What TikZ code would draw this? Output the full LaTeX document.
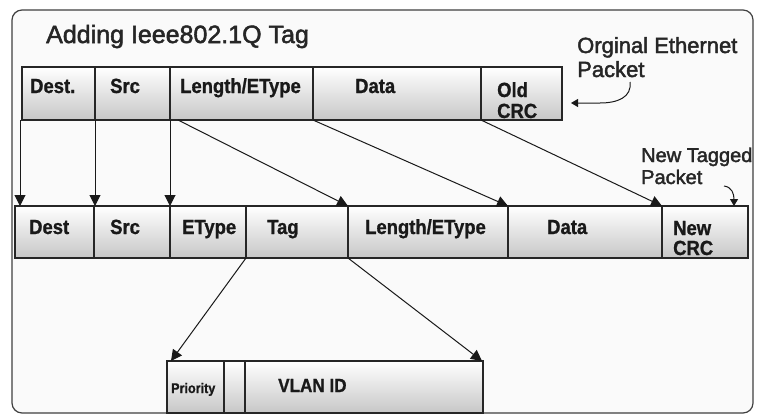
\documentclass[tikz,border=0pt]{standalone}
\usepackage{fontspec}
\setmainfont{Liberation Sans}
\newfontfamily\cellfont{Liberation Sans}[FakeStretch=0.9,FakeBold=1]
\newfontfamily\medfont{Liberation Sans}[FakeBold=2]
\usetikzlibrary{arrows.meta}
\begin{document}
\begin{tikzpicture}[x=1pt,y=-1pt,
  cell/.style={draw=black!85, line width=1.1pt, top color=white, bottom color=black!22,
    anchor=north west, inner sep=0pt, outer sep=0pt},
  ctext/.style={anchor=base west, inner sep=0pt, font=\cellfont\fontsize{20.5}{22}\selectfont\bfseries, text=black!90},
  note/.style={anchor=base west, inner sep=0pt, text=black!85},
  arr/.style={draw=black!90, line width=1pt, -{Triangle[length=11pt,width=11pt]}},
  sarr/.style={draw=black!90, line width=1pt, -{Triangle[length=7pt,width=8pt]}}]
\useasboundingbox (0,0) rectangle (759,415);
\fill[white] (0,0) rectangle (759,415);
% frame
\draw[draw=black!75, line width=1.2pt, fill=black!2, rounded corners=10pt] (12,10) rectangle (753,413);
% title
\node[note, font=\medfont\fontsize{25}{28}\selectfont] (title) at (46,43) {Adding Ieee802.1Q Tag};
% top row: original packet
\node[cell, minimum width=73pt, minimum height=53pt] (d1) at (22,67) {};
\node[cell, minimum width=75pt, minimum height=53pt] (s1) at (95,67) {};
\node[cell, minimum width=143pt, minimum height=53pt] (l1) at (170,67) {};
\node[cell, minimum width=168pt, minimum height=53pt] (da1) at (313,67) {};
\node[cell, minimum width=81pt, minimum height=53pt] (o1) at (481,67) {};
\node[ctext] (td1) at (30,93) {Dest.};
\node[ctext] (ts1) at (110,93) {Src};
\node[ctext] (tl1) at (180,93) {Length/EType};
\node[ctext] (tda1) at (355,93) {Data};
\node[ctext] (to1a) at (497,97) {Old};
\node[ctext] (to1b) at (497,118) {CRC};
% second row: tagged packet
\node[cell, minimum width=79pt, minimum height=52pt] (d2) at (15,206) {};
\node[cell, minimum width=76pt, minimum height=52pt] (s2) at (94,206) {};
\node[cell, minimum width=76pt, minimum height=52pt] (e2) at (170,206) {};
\node[cell, minimum width=102pt, minimum height=52pt] (t2) at (246,206) {};
\node[cell, minimum width=160pt, minimum height=52pt] (l2) at (348,206) {};
\node[cell, minimum width=154pt, minimum height=52pt] (da2) at (508,206) {};
\node[cell, minimum width=86pt, minimum height=52pt] (n2) at (662,206) {};
\node[ctext] (td2) at (29,234) {Dest};
\node[ctext] (ts2) at (110,234) {Src};
\node[ctext] (te2) at (182,234) {EType};
\node[ctext] (tt2) at (267,234) {Tag};
\node[ctext] (tl2) at (365,234) {Length/EType};
\node[ctext] (tda2) at (547,234) {Data};
\node[ctext] (tn2a) at (673,235) {New};
\node[ctext] (tn2b) at (673,255) {CRC};
% third row: tag detail
\node[cell, minimum width=57pt, minimum height=52pt] (p3) at (167,361) {};
\node[cell, minimum width=21pt, minimum height=52pt] (c3) at (224,361) {};
\node[cell, minimum width=238pt, minimum height=52pt] (v3) at (245,361) {};
\node[ctext, font=\cellfont\fontsize{14}{16}\selectfont\bfseries] (tp3) at (171,393) {Priority};
\node[ctext, font=\cellfont\fontsize{19}{21}\selectfont\bfseries] (tv3) at (278,392) {VLAN ID};
% notes
\node[note, font=\medfont\fontsize{22}{24}\selectfont] (ona) at (577,53) {Orginal Ethernet};
\node[note, font=\medfont\fontsize{22}{24}\selectfont] (onb) at (577,77) {Packet};
\node[note, font=\medfont\fontsize{20}{22}\selectfont] (nna) at (641,162) {New Tagged};
\node[note, font=\medfont\fontsize{20}{22}\selectfont] (nnb) at (641,184) {Packet};
% arrows from original to tagged packet
\draw[arr] ([xshift=-2pt]d1.south west) -- ([xshift=-2pt]d1.south west |- d2.north);
\draw[arr] (s1.south west) -- (s1.south west |- s2.north);
\draw[arr] (l1.south west) -- (l1.south west |- e2.north);
\draw[arr] ([xshift=8pt]l1.south west) -- (l2.north west);
\draw[arr] (da1.south west) -- (da2.north west);
\draw[arr] (o1.south west) -- (n2.north west);
% arrows from tag to tag detail
\draw[arr] (t2.south west) -- ([xshift=4pt]p3.north west);
\draw[arr] (t2.south east) -- ([xshift=-1pt]v3.north east);
% note arrows
\coordinate (oas) at (630,82);
\coordinate (oae) at (571,103);
\draw[sarr] (oas) .. controls (632,97) and (618,103) .. (600,103) -- (oae);
\coordinate (nas) at (724,186);
\draw[sarr] (nas) .. controls (732,187) and (734,194) .. ([xshift=-14pt]n2.north east);
\end{tikzpicture}
\end{document}
